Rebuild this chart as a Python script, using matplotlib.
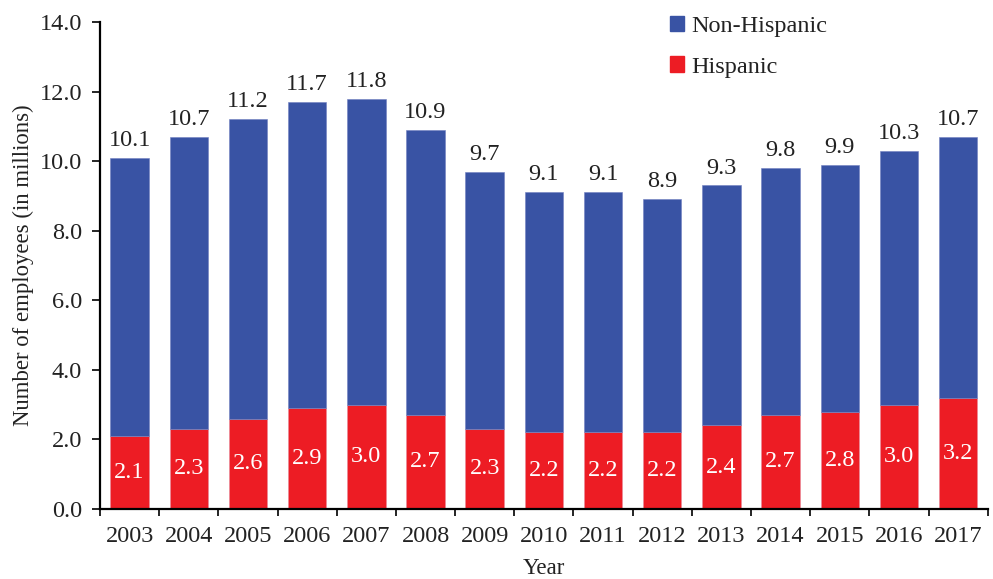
import numpy as np
import matplotlib.pyplot as plt
from matplotlib.patches import Patch

# data
years = [2003, 2004, 2005, 2006, 2007, 2008, 2009, 2010,
         2011, 2012, 2013, 2014, 2015, 2016, 2017]
hispanic = [2.1, 2.3, 2.6, 2.9, 3.0, 2.7, 2.3, 2.2, 2.2, 2.2, 2.4, 2.7, 2.8, 3.0, 3.2]
non_hispanic = [8.0, 8.4, 8.6, 8.8, 8.8, 8.2, 7.4, 6.9, 6.9, 6.7, 6.9, 7.1, 7.1, 7.3, 7.5]

BLUE = "#3953a4"
RED = "#ed1c24"
FS = 17.5

plt.rcParams['font.family'] = ['Liberation Serif', 'DejaVu Serif']

fig = plt.figure(figsize=(9.93, 5.79), dpi=100)
ax = fig.add_axes([0.1007, 0.121, 0.894, 0.841])

x = np.arange(len(years))
ax.bar(x, hispanic, width=0.65, color=RED, edgecolor="#e88a9a", linewidth=0.4, zorder=2)
ax.bar(x, non_hispanic, width=0.65, bottom=hispanic, color=BLUE,
       edgecolor="#7080c0", linewidth=0.4, zorder=2)

for i in range(len(years)):
    total = hispanic[i] + non_hispanic[i]
    ax.text(x[i], total + 0.2, f"{total:.1f}", ha='center', va='bottom',
            fontsize=FS, color="#222222")
    ax.text(x[i], hispanic[i] / 2, f"{hispanic[i]:.1f}", ha='center', va='center',
            fontsize=FS, color="white")

ax.set_xlim(-0.5, len(years) - 0.5)
ax.set_ylim(0, 14)
ax.set_yticks(np.arange(0, 14.1, 2))
ax.set_yticklabels([f"{v:.1f}" for v in np.arange(0, 14.1, 2)])
ax.set_xticks(x)
ax.set_xticklabels([str(y) for y in years])
ax.set_xticks(np.arange(-0.5, len(years), 1), minor=True)
ax.tick_params(axis='x', which='major', length=0, pad=12, labelsize=FS, colors="#222222")
ax.tick_params(axis='x', which='minor', length=5, width=1.2, direction='out')
ax.tick_params(axis='y', length=6, width=1.2, direction='out', pad=7, labelsize=FS, colors="#222222")
ax.tick_params(axis='both', color='black')

for s in ['top', 'right']:
    ax.spines[s].set_visible(False)
for s in ['left', 'bottom']:
    ax.spines[s].set_linewidth(1.6)

ax.set_xlabel("Year", fontsize=16.6, color="#222222", labelpad=8)
ax.set_ylabel("Number of employees (in millions)", fontsize=16.4, color="#222222", labelpad=4)

handles = [Patch(color=BLUE, label="Non-Hispanic"), Patch(color=RED, label="Hispanic")]
ax.legend(handles=handles, loc='upper left', bbox_to_anchor=(0.617, 1.058), frameon=False,
          fontsize=FS, handlelength=0.6, handleheight=0.6, handletextpad=0.3,
          labelspacing=0.8, labelcolor="#222222")

fig.savefig("out.png", dpi=100)
